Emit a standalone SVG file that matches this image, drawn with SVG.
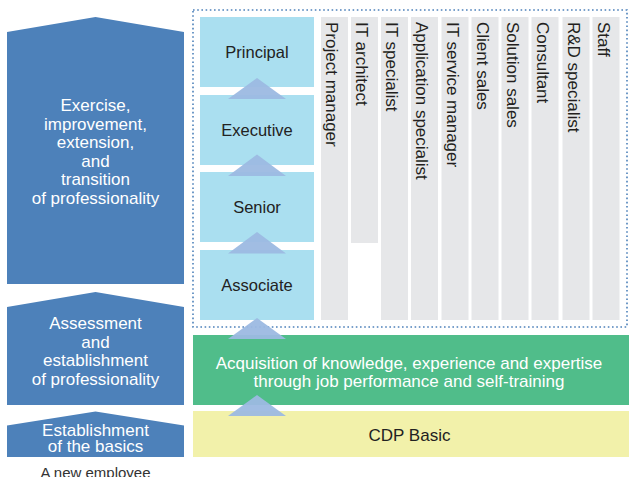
<svg xmlns="http://www.w3.org/2000/svg" width="629" height="477" viewBox="0 0 629 477">
<style>
.arrow{fill:#4D81BA}
.wt{font-family:"Liberation Sans",Arial,sans-serif;font-size:17px;fill:#ffffff;text-anchor:middle}
.lvl{fill:#AADFF0}
.lt{font-family:"Liberation Sans",Arial,sans-serif;font-size:16.5px;fill:#222222;text-anchor:middle}
.col{fill:#E6E7E9}
.ct{font-family:"Liberation Sans",Arial,sans-serif;font-size:17px;fill:#231F20}
.tri{fill:#9CB9E1;opacity:0.95}
.dt{font-family:"Liberation Sans",Arial,sans-serif;font-size:17px;fill:#222222;text-anchor:middle}
</style>
<rect width="629" height="477" fill="#ffffff"/>

<g id="stage-professionality">
<polygon class="arrow" points="7,32 95.5,17 184,32 184,284 7,284"/>
<text class="wt" x="95.5" y="111">Exercise,</text>
<text class="wt" x="95.5" y="129.5">improvement,</text>
<text class="wt" x="95.5" y="148">extension,</text>
<text class="wt" x="95.5" y="166.5">and</text>
<text class="wt" x="95.5" y="185">transition</text>
<text class="wt" x="95.5" y="203.5">of professionality</text>
</g>
<g id="stage-assessment">
<polygon class="arrow" points="7,307 95.5,292 184,307 184,405 7,405"/>
<text class="wt" x="95.5" y="329">Assessment</text>
<text class="wt" x="95.5" y="347.5">and</text>
<text class="wt" x="95.5" y="366">establishment</text>
<text class="wt" x="95.5" y="384.5">of professionality</text>
</g>
<g id="stage-basics">
<polygon class="arrow" points="7,425.5 95.5,411.5 184,425.5 184,457 7,457"/>
<text class="wt" x="95.5" y="436">Establishment</text>
<text class="wt" x="95.5" y="452">of the basics</text>
</g>
<g id="new-employee">
<text x="95.5" y="477.5" text-anchor="middle" font-family="Liberation Sans, Arial, sans-serif" font-size="15" fill="#333333">A new employee</text>
</g>

<g id="professional-area">
<rect x="193" y="10" width="434" height="317" fill="none" stroke="#4D81BA" stroke-width="1.6" stroke-dasharray="1.6 2.6"/>
</g>

<g id="level-principal"><rect class="lvl" x="200" y="17" width="114" height="70"/><text class="lt" x="257" y="58">Principal</text></g>
<g id="level-executive"><rect class="lvl" x="200" y="95" width="114" height="70"/><text class="lt" x="257" y="136">Executive</text></g>
<g id="level-senior"><rect class="lvl" x="200" y="172" width="114" height="70"/><text class="lt" x="257" y="213">Senior</text></g>
<g id="level-associate"><rect class="lvl" x="200" y="250" width="114" height="70"/><text class="lt" x="257" y="291">Associate</text></g>

<g id="col-project-manager"><rect class="col" x="321" y="17" width="27" height="303"/><text class="ct" transform="translate(326,22) rotate(90)">Project manager</text></g>
<g id="col-it-architect"><rect class="col" x="351" y="17" width="27" height="226"/><text class="ct" transform="translate(356,22) rotate(90)">IT architect</text></g>
<g id="col-it-specialist"><rect class="col" x="381" y="17" width="27" height="303"/><text class="ct" transform="translate(386,22) rotate(90)">IT specialist</text></g>
<g id="col-application-specialist"><rect class="col" x="411" y="17" width="27" height="303"/><text class="ct" transform="translate(416,22) rotate(90)">Application specialist</text></g>
<g id="col-it-service-manager"><rect class="col" x="441.5" y="17" width="27" height="303"/><text class="ct" transform="translate(446.5,22) rotate(90)">IT service manager</text></g>
<g id="col-client-sales"><rect class="col" x="471.5" y="17" width="27" height="303"/><text class="ct" transform="translate(476.5,22) rotate(90)">Client sales</text></g>
<g id="col-solution-sales"><rect class="col" x="501.5" y="17" width="27" height="303"/><text class="ct" transform="translate(506.5,22) rotate(90)">Solution sales</text></g>
<g id="col-consultant"><rect class="col" x="531.5" y="17" width="27" height="303"/><text class="ct" transform="translate(536.5,22) rotate(90)">Consultant</text></g>
<g id="col-rd-specialist"><rect class="col" x="562.5" y="17" width="27" height="303"/><text class="ct" transform="translate(567.5,22) rotate(90)">R&amp;D specialist</text></g>
<g id="col-staff"><rect class="col" x="592.5" y="17" width="27" height="303"/><text class="ct" transform="translate(597.5,22) rotate(90)">Staff</text></g>

<g id="acquisition">
<rect x="193" y="335" width="436" height="70" fill="#50BD8A"/>
<text class="wt" x="409" y="368.5">Acquisition of knowledge, experience and expertise</text>
<text class="wt" x="409" y="387">through job performance and self-training</text>
</g>
<g id="cdp-basic">
<rect x="193" y="411" width="436" height="46" fill="#F2F1AA"/>
<text class="dt" x="409.5" y="441">CDP Basic</text>
</g>

<g id="connectors">
<polygon class="tri" points="228,99 257,78 286,99"/>
<polygon class="tri" points="228,176 257,154.5 286,176"/>
<polygon class="tri" points="228,253.5 257,232 286,253.5"/>
<polygon class="tri" points="228,339 257,318 286,339"/>
<polygon class="tri" points="228,416 257,395 286,416"/>
</g>
</svg>
